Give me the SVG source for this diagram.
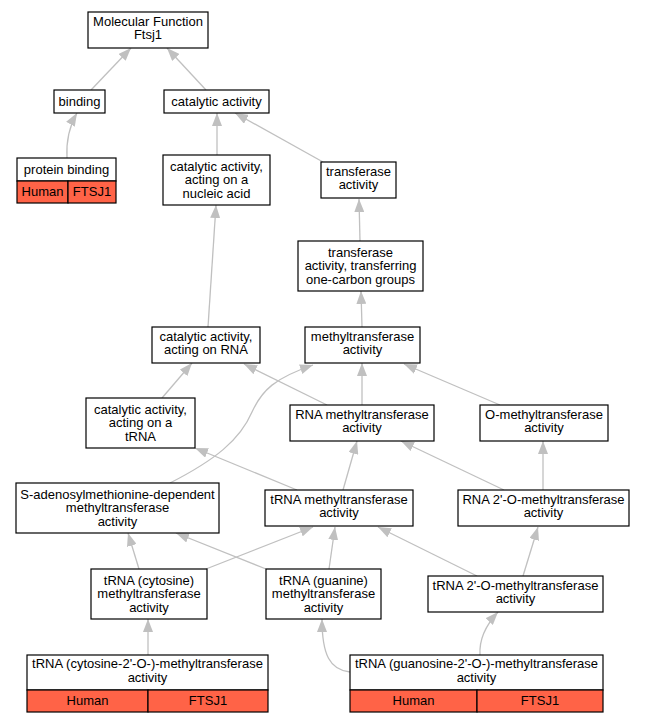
<svg xmlns="http://www.w3.org/2000/svg" width="645" height="723" viewBox="0 0 645 723">
<defs>
<style>
.n rect{fill:#fff;stroke:#000;stroke-width:1.2}
.n rect.r{fill:#ff6347}
text{font-family:"Liberation Sans",Arial,sans-serif;font-size:13px;text-anchor:middle;fill:#000}
#edges path{fill:none;stroke:#c0c0c0;stroke-width:1.3;marker-end:url(#ah)}
</style>
<marker id="ah" markerUnits="userSpaceOnUse" markerWidth="13" markerHeight="10" refX="13" refY="5" orient="auto">
<path d="M0,0 L13,5 L0,10 z" fill="#c0c0c0"/>
</marker>
</defs>
<rect width="645" height="723" fill="#fff"/>
<g id="edges">
<path d="M91,90 L131,48"/>
<path d="M206,90 L167,48"/>
<path d="M67,158 C66,140 70,125 77,113"/>
<path d="M217,155 L217,113"/>
<path d="M323,162 L235,113"/>
<path d="M360,241 L359,199"/>
<path d="M362,327 L361,291"/>
<path d="M208,327 L216,205"/>
<path d="M162,398 L192,363"/>
<path d="M327,405 L244,364"/>
<path d="M362,405 L362,363"/>
<path d="M500,405 L404,364"/>
<path d="M170,483 C215,460 240,440 252,412 C262,390 275,378 313,365"/>
<path d="M297,490 L195,448"/>
<path d="M343,490 L357,441"/>
<path d="M504,490 L401,441"/>
<path d="M543,490 L543,441"/>
<path d="M139,569 L128,533"/>
<path d="M206,569 L313,527"/>
<path d="M266,569 L176,533"/>
<path d="M329,569 L335,527"/>
<path d="M477,576 L378,527"/>
<path d="M523,576 L538,527"/>
<path d="M148,655 L148,619"/>
<path d="M350,672 C330,670 322,655 322,619"/>
<path d="M480,655 C479,640 486,625 498,612"/>
</g>
<g id="n_mf" class="n"><rect x="88" y="12" width="120" height="36"/><text x="148" y="25.5">Molecular Function</text><text x="148" y="39">Ftsj1</text></g>
<g id="n_binding" class="n"><rect x="54" y="90" width="51" height="23"/><text x="79.5" y="106">binding</text></g>
<g id="n_catalytic" class="n"><rect x="164" y="90" width="105" height="23"/><text x="216.5" y="106">catalytic activity</text></g>
<g id="n_protein_binding" class="n"><rect x="17" y="158" width="99" height="23"/><rect class="r" x="17" y="181" width="51" height="22"/><rect class="r" x="68" y="181" width="48" height="22"/><text x="66.5" y="174">protein binding</text><text x="42.5" y="195.5">Human</text><text x="92" y="195.5">FTSJ1</text></g>
<g id="n_cat_nucleic" class="n"><rect x="163" y="155" width="107" height="50"/><text x="216.5" y="170.5">catalytic activity,</text><text x="216.5" y="184">acting on a</text><text x="216.5" y="197.5">nucleic acid</text></g>
<g id="n_transferase" class="n"><rect x="321" y="162" width="75" height="36"/><text x="358.5" y="175.5">transferase</text><text x="358.5" y="189">activity</text></g>
<g id="n_one_carbon" class="n"><rect x="298" y="241" width="125" height="50"/><text x="360.5" y="256.5">transferase</text><text x="360.5" y="270">activity, transferring</text><text x="360.5" y="283.5">one-carbon groups</text></g>
<g id="n_methyltransferase" class="n"><rect x="305" y="327" width="115" height="36"/><text x="362.5" y="340.5">methyltransferase</text><text x="362.5" y="354">activity</text></g>
<g id="n_cat_rna" class="n"><rect x="152" y="327" width="108" height="36"/><text x="206" y="340.5">catalytic activity,</text><text x="206" y="354">acting on RNA</text></g>
<g id="n_cat_trna" class="n"><rect x="86" y="398" width="109" height="50"/><text x="140.5" y="413.5">catalytic activity,</text><text x="140.5" y="427">acting on a</text><text x="140.5" y="440.5">tRNA</text></g>
<g id="n_rna_methyl" class="n"><rect x="290" y="405" width="144" height="36"/><text x="362" y="418.5">RNA methyltransferase</text><text x="362" y="432">activity</text></g>
<g id="n_o_methyl" class="n"><rect x="480" y="405" width="128" height="36"/><text x="544" y="418.5">O-methyltransferase</text><text x="544" y="432">activity</text></g>
<g id="n_sam" class="n"><rect x="16" y="483" width="203" height="50"/><text x="117.5" y="498.5">S-adenosylmethionine-dependent</text><text x="117.5" y="512">methyltransferase</text><text x="117.5" y="525.5">activity</text></g>
<g id="n_trna_methyl" class="n"><rect x="265" y="490" width="148" height="36"/><text x="339" y="503.5">tRNA methyltransferase</text><text x="339" y="517">activity</text></g>
<g id="n_rna_2o" class="n"><rect x="458" y="490" width="171" height="36"/><text x="543.5" y="503.5">RNA 2'-O-methyltransferase</text><text x="543.5" y="517">activity</text></g>
<g id="n_trna_cyt" class="n"><rect x="91" y="569" width="116" height="50"/><text x="149" y="584.5">tRNA (cytosine)</text><text x="149" y="598">methyltransferase</text><text x="149" y="611.5">activity</text></g>
<g id="n_trna_gua" class="n"><rect x="266" y="569" width="115" height="50"/><text x="323.5" y="584.5">tRNA (guanine)</text><text x="323.5" y="598">methyltransferase</text><text x="323.5" y="611.5">activity</text></g>
<g id="n_trna_2o" class="n"><rect x="428" y="576" width="175" height="36"/><text x="515.5" y="589.5">tRNA 2'-O-methyltransferase</text><text x="515.5" y="603">activity</text></g>
<g id="n_trna_cyt2o" class="n"><rect x="27" y="655" width="241" height="35"/><rect class="r" x="27" y="690" width="121" height="22"/><rect class="r" x="148" y="690" width="120" height="22"/><text x="147.5" y="668">tRNA (cytosine-2'-O-)-methyltransferase</text><text x="147.5" y="681.5">activity</text><text x="87.5" y="705">Human</text><text x="208" y="705">FTSJ1</text></g>
<g id="n_trna_gua2o" class="n"><rect x="350" y="655" width="253" height="35"/><rect class="r" x="350" y="690" width="127" height="22"/><rect class="r" x="477" y="690" width="126" height="22"/><text x="476.5" y="668">tRNA (guanosine-2'-O-)-methyltransferase</text><text x="476.5" y="681.5">activity</text><text x="413.5" y="705">Human</text><text x="540" y="705">FTSJ1</text></g>
</svg>
